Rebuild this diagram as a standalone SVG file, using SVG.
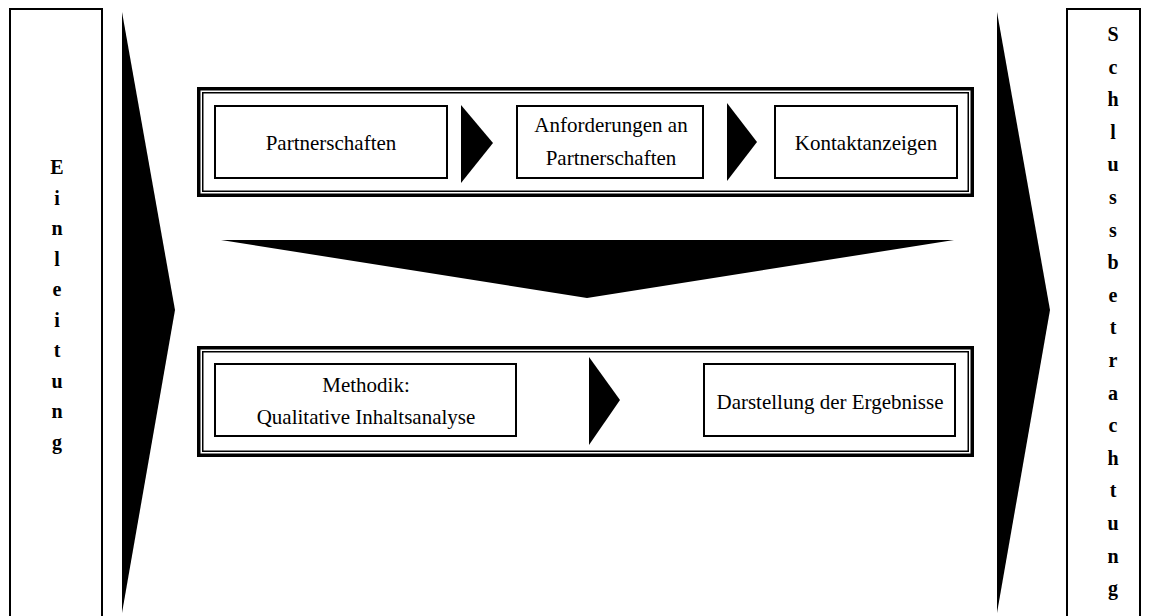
<svg xmlns="http://www.w3.org/2000/svg" width="1152" height="616" viewBox="0 0 1152 616">
<style>
.side{fill:#fff;stroke:#000;stroke-width:2}
.frameOuter{fill:none;stroke:#000;stroke-width:3.5}
.frameInner{fill:none;stroke:#000;stroke-width:1.5}
.box{fill:#fff;stroke:#000;stroke-width:2}
.lbl{font-family:"Liberation Serif","Times New Roman",serif;font-size:21px;fill:#000;text-anchor:middle}
.vert{font-family:"Liberation Serif","Times New Roman",serif;font-size:20px;font-weight:bold;fill:#000;text-anchor:middle}
.arr{fill:#000;stroke:none}
</style>
<rect width="1152" height="616" fill="#fff"/>

<g id="einleitung">
<rect class="side" x="10" y="9" width="92" height="620"/>
<text class="vert"><tspan x="57" y="174">E</tspan><tspan x="57" y="204.5">i</tspan><tspan x="57" y="235">n</tspan><tspan x="57" y="265.5">l</tspan><tspan x="57" y="296">e</tspan><tspan x="57" y="326.5">i</tspan><tspan x="57" y="357">t</tspan><tspan x="57" y="387.5">u</tspan><tspan x="57" y="418">n</tspan><tspan x="57" y="448.5">g</tspan></text>
</g>

<g id="schlussbetrachtung">
<rect class="side" x="1067" y="9" width="73" height="620"/>
<text class="vert"><tspan x="1113" y="41">S</tspan><tspan x="1113" y="73.6">c</tspan><tspan x="1113" y="106.2">h</tspan><tspan x="1113" y="138.8">l</tspan><tspan x="1113" y="171.4">u</tspan><tspan x="1113" y="204">s</tspan><tspan x="1113" y="236.6">s</tspan><tspan x="1113" y="269.2">b</tspan><tspan x="1113" y="301.8">e</tspan><tspan x="1113" y="334.4">t</tspan><tspan x="1113" y="367">r</tspan><tspan x="1113" y="399.6">a</tspan><tspan x="1113" y="432.2">c</tspan><tspan x="1113" y="464.8">h</tspan><tspan x="1113" y="497.4">t</tspan><tspan x="1113" y="530">u</tspan><tspan x="1113" y="562.6">n</tspan><tspan x="1113" y="595.2">g</tspan></text>
</g>

<g id="frame-top">
<rect class="frameOuter" x="198.75" y="88.75" width="773.5" height="106.5"/>
<rect class="frameInner" x="202.75" y="92.75" width="765.5" height="98.5"/>
</g>

<g id="partnerschaften">
<rect class="box" x="215" y="106" width="232" height="72"/>
<text class="lbl" x="331" y="150">Partnerschaften</text>
</g>

<g id="anforderungen">
<rect class="box" x="517" y="106" width="186" height="72"/>
<text class="lbl" x="611" y="132">Anforderungen an</text>
<text class="lbl" x="611" y="165">Partnerschaften</text>
</g>

<g id="kontaktanzeigen">
<rect class="box" x="775" y="106" width="182" height="72"/>
<text class="lbl" x="866" y="150">Kontaktanzeigen</text>
</g>

<g id="frame-bottom">
<rect class="frameOuter" x="198.75" y="347.75" width="773.5" height="107.5"/>
<rect class="frameInner" x="202.75" y="351.75" width="765.5" height="99.5"/>
</g>

<g id="methodik">
<rect class="box" x="215" y="364" width="301" height="72"/>
<text class="lbl" x="366" y="392">Methodik:</text>
<text class="lbl" x="366" y="424">Qualitative Inhaltsanalyse</text>
</g>

<g id="darstellung">
<rect class="box" x="704" y="364" width="251" height="72"/>
<text class="lbl" x="830" y="409">Darstellung der Ergebnisse</text>
</g>

<g id="connectors">
<polygon class="arr" points="122,12 175,310 122,613"/>
<polygon class="arr" points="997,12 1050,310 997,613"/>
<polygon class="arr" points="461,105 493,143 461,183"/>
<polygon class="arr" points="727,103 757,142 727,181"/>
<polygon class="arr" points="221,240 954,240 587,298"/>
<polygon class="arr" points="589,357 620,400 589,445"/>
</g>
</svg>
